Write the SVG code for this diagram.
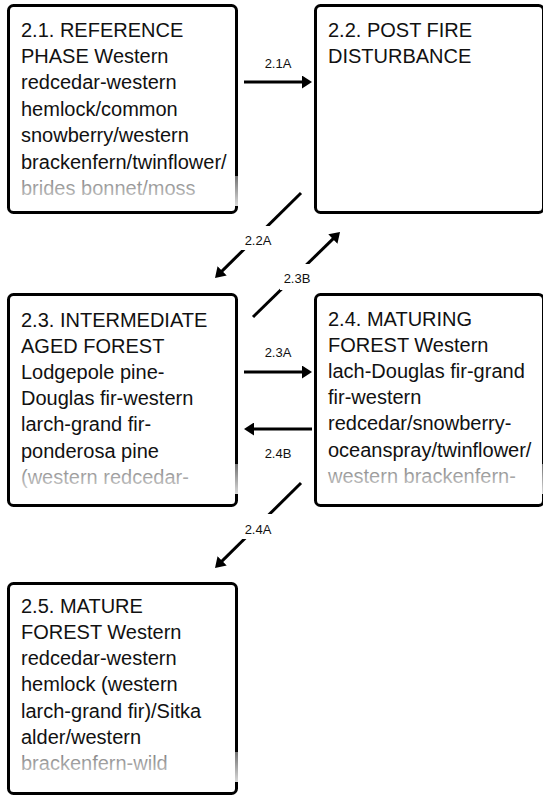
<svg xmlns="http://www.w3.org/2000/svg" width="543" height="796" viewBox="0 0 543 796">
<style>
.box{fill:#fff;stroke:#000;stroke-width:3}
.t{font-family:"Liberation Sans",Arial,sans-serif;font-size:20px;fill:#111}
.lbl{font-family:"Liberation Sans",Arial,sans-serif;font-size:13px;fill:#111;text-anchor:middle}
.edge{stroke:#000;stroke-width:3;fill:none;marker-end:url(#ah)}
.lb{fill:#fff}
.fade{fill:url(#fd)}
</style>
<defs>
<marker id="ah" viewBox="0 0 10 13" refX="2" refY="6.5" markerWidth="10" markerHeight="13" markerUnits="userSpaceOnUse" orient="auto">
<path d="M0,0 L10,6.5 L0,13 z" fill="#000"/>
</marker>
<linearGradient id="fd" x1="0" y1="0" x2="0" y2="1">
<stop offset="0" stop-color="#fff" stop-opacity="0.45"/>
<stop offset="1" stop-color="#fff" stop-opacity="0.85"/>
</linearGradient>
</defs>
<g id="connectors">
<line class="edge" x1="244" y1="82" x2="304" y2="82"/>
<text class="lbl" x="278" y="68">2.1A</text>
<line class="edge" x1="301" y1="193" x2="220.7" y2="272.4"/>
<rect class="lb" x="241" y="226" width="34" height="24"/>
<text class="lbl" x="258" y="245">2.2A</text>
<line class="edge" x1="253" y1="317" x2="334.3" y2="237.6"/>
<rect class="lb" x="280" y="264" width="34" height="26"/>
<text class="lbl" x="297" y="283">2.3B</text>
<line class="edge" x1="244" y1="372" x2="304" y2="372"/>
<text class="lbl" x="278" y="357">2.3A</text>
<line class="edge" x1="312" y1="429" x2="252" y2="429"/>
<text class="lbl" x="278" y="458">2.4B</text>
<line class="edge" x1="301" y1="483" x2="220.7" y2="562.4"/>
<rect class="lb" x="241" y="514" width="34" height="25"/>
<text class="lbl" x="258" y="534">2.4A</text>
</g>
<g id="n21">
<rect class="box" x="8.5" y="5.5" width="228" height="207" rx="5"/>
<text class="t" x="21" y="36.5">2.1. REFERENCE<tspan x="21" dy="26.4">PHASE Western</tspan><tspan x="21" dy="26.4">redcedar-western</tspan><tspan x="21" dy="26.4">hemlock/common</tspan><tspan x="21" dy="26.4">snowberry/western</tspan><tspan x="21" dy="26.4">brackenfern/twinflower/</tspan><tspan x="21" dy="26.4">brides bonnet/moss</tspan></text>
<rect class="fade" x="10" y="176" width="228" height="30"/>
</g>
<g id="n22">
<rect class="box" x="315.5" y="5.5" width="228" height="207" rx="5"/>
<text class="t" x="328" y="36.5">2.2. POST FIRE<tspan x="328" dy="26.4">DISTURBANCE</tspan></text>
</g>
<g id="n23">
<rect class="box" x="8.5" y="294.5" width="228" height="211" rx="5"/>
<text class="t" x="21" y="327">2.3. INTERMEDIATE<tspan x="21" dy="26.1">AGED FOREST</tspan><tspan x="21" dy="26.1">Lodgepole pine-</tspan><tspan x="21" dy="26.1">Douglas fir-western</tspan><tspan x="21" dy="26.1">larch-grand fir-</tspan><tspan x="21" dy="26.1">ponderosa pine</tspan><tspan x="21" dy="26.1">(western redcedar-</tspan></text>
<rect class="fade" x="10" y="464" width="228" height="30"/>
</g>
<g id="n24">
<rect class="box" x="315.5" y="294.5" width="228" height="211" rx="5"/>
<text class="t" x="328" y="326">2.4. MATURING<tspan x="328" dy="26.1">FOREST Western</tspan><tspan x="328" dy="26.1">lach-Douglas fir-grand</tspan><tspan x="328" dy="26.1">fir-western</tspan><tspan x="328" dy="26.1">redcedar/snowberry-</tspan><tspan x="328" dy="26.1">oceanspray/twinflower/</tspan><tspan x="328" dy="26.1">western brackenfern-</tspan></text>
<rect class="fade" x="317" y="464" width="228" height="30"/>
</g>
<g id="n25">
<rect class="box" x="8.5" y="583.5" width="228" height="210" rx="5"/>
<text class="t" x="21" y="612.5">2.5. MATURE<tspan x="21" dy="26.3">FOREST Western</tspan><tspan x="21" dy="26.3">redcedar-western</tspan><tspan x="21" dy="26.3">hemlock (western</tspan><tspan x="21" dy="26.3">larch-grand fir)/Sitka</tspan><tspan x="21" dy="26.3">alder/western</tspan><tspan x="21" dy="26.3">brackenfern-wild</tspan></text>
<rect class="fade" x="10" y="752" width="228" height="30"/>
</g>
</svg>
